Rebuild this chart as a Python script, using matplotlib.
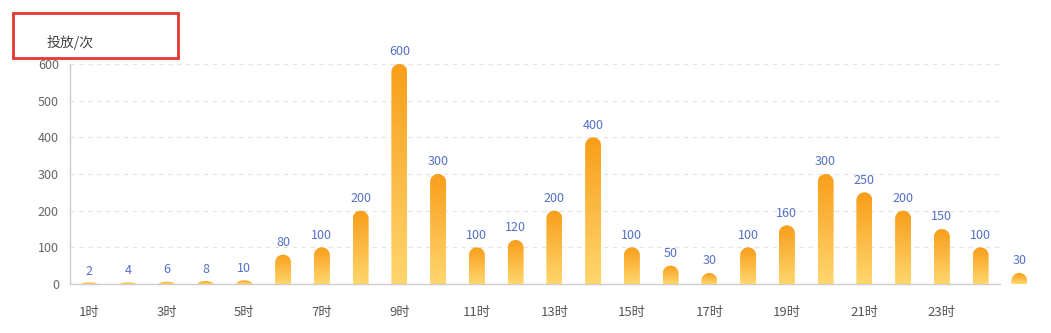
import matplotlib
matplotlib.use("Agg")
import matplotlib.pyplot as plt
import numpy as np
from matplotlib.path import Path
from matplotlib.patches import PathPatch, Rectangle
from matplotlib.colors import LinearSegmentedColormap

plt.rcParams['font.family'] = ['Noto Sans CJK SC', 'DejaVu Sans']

hours = [f"{i}时" for i in range(1, 25)]
values = [2, 4, 6, 8, 10, 80, 100, 200, 600, 300, 100, 120, 200, 400, 100, 50,
          30, 100, 160, 300, 250, 200, 150, 100, 30]
y_ticks = [0, 100, 200, 300, 400, 500, 600]
title = "投放/次"

W, H = 1051, 333
fig = plt.figure(figsize=(W / 100, H / 100), dpi=100)
ax = fig.add_axes([70 / W, 1 - 284 / H, 930 / W, 220 / H])
ax.set_xlim(-0.5, len(hours) - 0.5)
ax.set_ylim(0, 600)

for s in ['top', 'right']:
    ax.spines[s].set_visible(False)
for s in ['left', 'bottom']:
    ax.spines[s].set_color('#cccccc')
    ax.spines[s].set_linewidth(1)

ax.set_yticks(y_ticks)
ax.set_yticklabels([str(v) for v in y_ticks], fontsize=9, color='#666666')
ax.yaxis.grid(True, linestyle=(0, (4, 4)), color='#e3e3e3', linewidth=0.8)
ax.set_axisbelow(True)
ax.tick_params(axis='y', length=0, pad=8)

xt = list(range(0, len(hours), 2))
ax.set_xticks(xt)
ax.set_xticklabels([hours[i] for i in xt], fontsize=9.5, color='#555555')
ax.tick_params(axis='x', length=0, pad=15.5)

cmap = LinearSegmentedColormap.from_list('g', ['#FFD66E', '#F89E1A'])
grad = np.linspace(0, 1, 256).reshape(-1, 1)

fig.canvas.draw()
trans = ax.transData
inv = trans.inverted()
bar_px = 16.0

for i, v in enumerate(values):
    x0p, y0p = trans.transform((i, 0))
    _, ytp = trans.transform((i, v))
    hpx = max(ytp - y0p, 1.5)
    r = min(bar_px / 2, hpx)
    left = x0p - bar_px / 2
    right = x0p + bar_px / 2
    verts = [(left, y0p)]
    top_base = max(y0p + hpx - r, y0p)
    verts.append((left, top_base))
    n = 30
    for k in range(n + 1):
        a = np.pi - np.pi * k / n
        cx = x0p + (bar_px / 2) * np.cos(a)
        cy = top_base + r * np.sin(a)
        verts.append((cx, cy))
    verts.append((right, y0p))
    verts.append((left, y0p))
    dverts = inv.transform(np.array(verts))
    path = Path(dverts, closed=True)
    patch = PathPatch(path, facecolor='none', edgecolor='none', transform=ax.transData)
    patch.set_clip_on(False)
    ax.add_patch(patch)
    xl, _ = inv.transform((left, 0))
    xr, _ = inv.transform((right, 0))
    _, ytop = inv.transform((0, top_base + r))
    im = ax.imshow(grad, cmap=cmap, origin='lower', aspect='auto',
                   extent=(xl, xr, 0, ytop), interpolation='bilinear', zorder=3)
    im.set_clip_box(fig.bbox)
    im.set_clip_path(patch)
    ax.annotate(str(v), xy=(i, v), xytext=(0, 4), textcoords='offset points',
                ha='center', va='bottom', fontsize=9, color='#5470c6',
                annotation_clip=False)

ax.set_xlim(-0.5, len(hours) - 0.5)
ax.set_ylim(0, 600)

fig.text(47 / W, 1 - 42 / H, title, fontsize=10, color='#444444', ha='left', va='center')
fig.patches.append(Rectangle((13 / W, 1 - 58 / H), 165 / W, 45 / H, fill=False,
                             edgecolor='#e53935', linewidth=2, transform=fig.transFigure))

fig.savefig('out.png', dpi=100)
